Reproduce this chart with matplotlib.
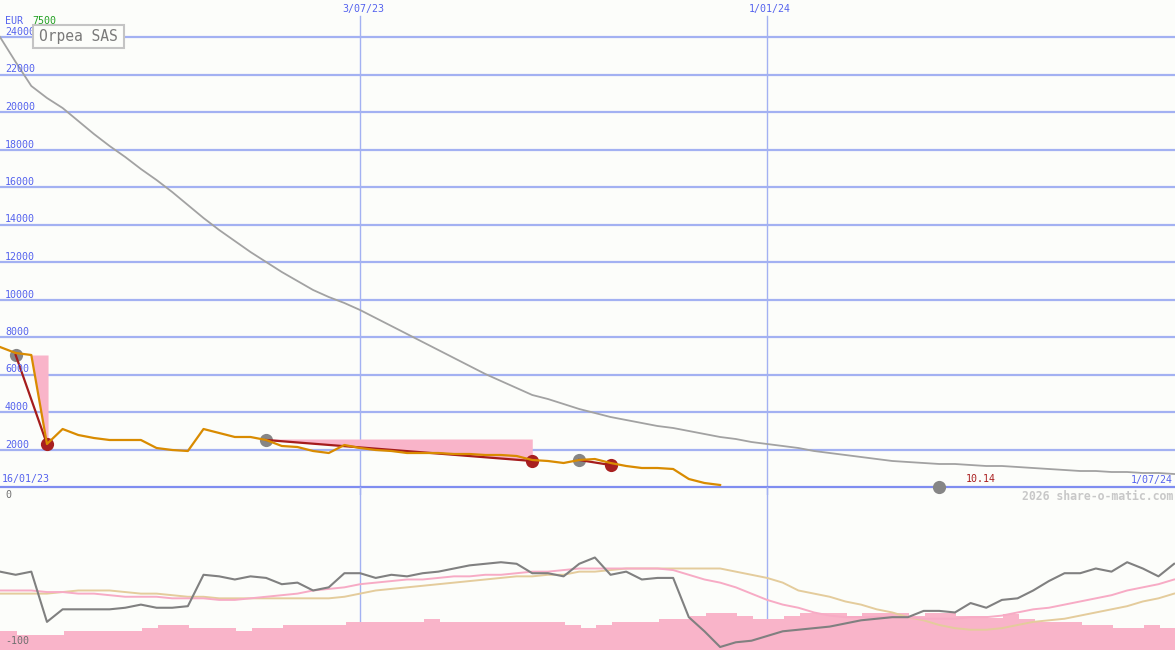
import numpy as np
import matplotlib
matplotlib.use("Agg")
import matplotlib.pyplot as plt
import matplotlib.dates as mdates
from matplotlib.patches import Rectangle

# ---------------- data ----------------
START = "2023-01-23"            # first weekly point
X_END_DAYS = 525.4              # right edge of the chart (1 Jul 2024)

# weekly closing price (EUR, adjusted)
price = [7467, 7147, 7040, 2293, 3093, 2773, 2613, 2507, 2507, 2507,
         2080, 1973, 1920, 3093, 2880, 2667, 2667, 2507, 2187, 2133,
         1920, 1813, 2240, 2080, 1973, 1920, 1813, 1813, 1813, 1760,
         1760, 1707, 1707, 1653, 1440, 1387, 1280, 1440, 1493, 1280,
         1120, 1013, 1013, 960, 427, 213, 107]

# long moving average (grey)
long_ma = [24000, 22667, 21387, 20747, 20213, 19520, 18827, 18187, 17600, 16960,
           16373, 15733, 15040, 14347, 13707, 13120, 12533, 12000, 11467, 10987,
           10507, 10133, 9813, 9440, 9013, 8587, 8160, 7733, 7307, 6880,
           6453, 6027, 5653, 5280, 4907, 4693, 4427, 4160, 3947, 3733,
           3573, 3413, 3253, 3147, 2987, 2827, 2667, 2560, 2400, 2293,
           2187, 2080, 1920, 1813, 1707, 1600, 1493, 1387, 1333, 1280,
           1227, 1227, 1173, 1120, 1120, 1067, 1013, 960, 907, 853,
           853, 800, 800, 747, 747, 693]

# trade signals (week index, price)
buy_weeks = [1, 17, 37, 60]
buy_vals = [7040, 2507, 1440, 0]
sell_weeks = [3, 34, 39]
sell_vals = [2293, 1387, 1173]
zone_tops = [7040, 2560]           # pink loss zones
last_value_label = "10.14"

# oscillator panel (0 .. -100)
osc = [-52, -54, -52, -84, -76, -76, -76, -76, -75, -73,
       -75, -75, -74, -54, -55, -57, -55, -56, -60, -59,
       -64, -62, -53, -53, -56, -54, -55, -53, -52, -50,
       -48, -47, -46, -47, -53, -53, -55, -47, -43, -54,
       -52, -57, -56, -56, -81, -90, -100, -97, -96, -93,
       -90, -89, -88, -87, -85, -83, -82, -81, -81, -77,
       -77, -78, -72, -75, -70, -69, -64, -58, -53, -53,
       -50, -52, -46, -50, -55, -47]
osc_fast = [-64, -64, -64, -65, -65, -66, -66, -67, -68, -68,
            -68, -69, -69, -69, -70, -70, -69, -68, -67, -66,
            -64, -63, -62, -60, -59, -58, -57, -57, -56, -55,
            -55, -54, -54, -53, -52, -52, -51, -50, -50, -50,
            -50, -50, -50, -51, -54, -57, -59, -62, -66, -70,
            -73, -75, -78, -80, -81, -81, -81, -81, -81, -82,
            -82, -82, -81, -81, -80, -78, -76, -75, -73, -71,
            -69, -67, -64, -62, -60, -57]
osc_slow = [-66, -66, -66, -66, -65, -64, -64, -64, -65, -66,
            -66, -67, -68, -68, -69, -69, -69, -69, -69, -69,
            -69, -69, -68, -66, -64, -63, -62, -61, -60, -59,
            -58, -57, -56, -55, -55, -54, -54, -52, -52, -51,
            -50, -50, -50, -50, -50, -50, -50, -52, -54, -56,
            -59, -64, -66, -68, -71, -73, -76, -78, -81, -83,
            -86, -88, -89, -89, -88, -86, -84, -83, -82, -80,
            -78, -76, -74, -71, -69, -66]
volume = [19, 19, 15, 15, 15, 19, 19, 19, 19, 19,
          22, 25, 25, 22, 22, 22, 19, 22, 22, 25,
          25, 25, 25, 28, 28, 28, 28, 28, 31, 28,
          28, 28, 28, 28, 28, 28, 28, 25, 22, 25,
          28, 28, 28, 31, 31, 34, 37, 37, 34, 31,
          31, 34, 37, 37, 37, 34, 37, 37, 37, 34,
          37, 37, 34, 34, 32, 36, 31, 28, 28, 28,
          25, 25, 22, 22, 25, 22]

y_ticks = list(range(2000, 24001, 2000))
vline_dates = ["2023-07-03", "2024-01-01"]
vline_labels = ["3/07/23", "1/01/24"]
first_label, last_label = "16/01/23", "1/07/24"
title = "Orpea SAS"

# ---------------- style ----------------
W, H = 1175, 650
BG = "#fcfdfa"
GRID = "#a3b1f2"
ZERO = "#7f8df0"
LBL = "#5563ee"
FONT = "DejaVu Sans Mono"
plt.rcParams["font.family"] = FONT

fig = plt.figure(figsize=(W / 100, H / 100), dpi=100, facecolor=BG)

t0 = mdates.date2num(np.datetime64(START))
wk = lambda i: t0 + 7 * np.asarray(i, dtype=float)
xw = wk(np.arange(len(long_ma)))
xlim = (t0, t0 + X_END_DAYS)
vx = [mdates.date2num(np.datetime64(d)) for d in vline_dates]

PXV = 24000 / 450.0                       # value per pixel, main panel
MAIN_BOT = 495
main = fig.add_axes([0, (H - MAIN_BOT) / H, 1, MAIN_BOT / H])
main.set_facecolor("none")
main.set_xlim(*xlim)
main.set_ylim(-(MAIN_BOT - 487) * PXV, 24000 + 37 * PXV)
main.axis("off")

# lower panel axes
LP = 163
OPX = 100 / 157.0
lo_ylim = (-(650 - 490) * OPX, (490 - 487) * OPX)
lgrid = fig.add_axes([0, 0, 1, LP / H]); lgrid.axis("off")
lgrid.set_xlim(*xlim); lgrid.set_ylim(*lo_ylim)
lvol = fig.add_axes([0, 0, 1, LP / H]); lvol.axis("off")
lvol.set_xlim(*xlim); lvol.set_ylim(0, LP)
losc = fig.add_axes([0, 0, 1, LP / H]); losc.axis("off")
losc.set_xlim(*xlim); losc.set_ylim(*lo_ylim)

# grid
for v in y_ticks:
    main.axhline(v, color=GRID, lw=1.6, zorder=1)
main.axhline(0, color=ZERO, lw=1.6, zorder=1.5)
for x in vx:
    main.axvline(x, ymin=0, ymax=(MAIN_BOT - 16) / MAIN_BOT, color=GRID, lw=1.0, zorder=1)
    lgrid.axvline(x, color=GRID, lw=1.0)

# pink zones
pr = np.array(price, dtype=float)
main.fill_between([wk(2), wk(3), wk(3.07)], [zone_tops[0]] * 3,
                  [pr[2], pr[3], pr[3]], color="#f9b4c9", lw=0, zorder=2)
zx = wk(np.array([17, 34]))
main.fill_between(zx, [zone_tops[1]] * 2, [buy_vals[1], sell_vals[1]],
                  color="#f9b4c9", lw=0, zorder=2)

# long MA
main.plot(xw, long_ma, color="#a2a2a2", lw=1.3, zorder=3)

# signal dots
main.plot(wk(buy_weeks), buy_vals, "o", ms=9.5, color="#868686", mec="none", zorder=4, clip_on=False)
main.plot(wk(sell_weeks), sell_vals, "o", ms=9.5, color="#a82020", mec="none", zorder=4)

# trade lines
for b, s in [(0, 0), (1, 1), (2, 2)]:
    main.plot([wk(buy_weeks[b]), wk(sell_weeks[s])], [buy_vals[b], sell_vals[s]],
              color="#a51c1c", lw=1.6, zorder=5)

# price
main.plot(wk(np.arange(len(price))), price, color="#d98b00", lw=1.6, zorder=6)

# lower panel
lvol.bar(xw - 6.4, volume, width=7, align="edge", color="#f9b4c9", lw=0)
losc.plot(xw, osc_slow, color="#e4cc9c", lw=1.4)
losc.plot(xw, osc_fast, color="#f7abc5", lw=1.4)
losc.plot(xw, osc, color="#808080", lw=1.5)

# ---------------- texts ----------------
for v in y_ticks:
    main.annotate(str(v), xy=(0, v), xycoords=("axes fraction", "data"),
                  xytext=(5, 2), textcoords="offset pixels",
                  va="baseline", ha="left", fontsize=7.2, color=LBL, zorder=7)

for x, s in zip(vx, vline_labels):
    main.annotate(s, xy=(x, 1), xycoords=("data", "axes fraction"),
                  xytext=(3, -9), textcoords="offset pixels",
                  ha="center", va="center", fontsize=7.2, color=LBL)


def ftext(x, y, s, **kw):
    fig.text(x / W, 1 - y / H, s, **kw)


ftext(5, 21, "EUR", fontsize=7.2, color=LBL, va="center", ha="left")
ftext(32, 21, "7500", fontsize=7.2, color="#22a022", va="center", ha="left")
ftext(2, 479, first_label, fontsize=7.2, color=LBL, va="center", ha="left")
ftext(1173, 479.5, last_label, fontsize=7.2, color=LBL, va="center", ha="right")
ftext(966, 479.5, last_value_label, fontsize=7.2, color="#aa2020", va="center", ha="left")
ftext(1173, 496, "2026 share-o-matic.com", fontsize=8.3, color="#c8c8c8",
      fontweight="bold", va="center", ha="right")
ftext(5, 495.5, "0", fontsize=7.2, color="#707070", va="center", ha="left")
ftext(5, 641, "-100", fontsize=7.2, color="#707070", va="center", ha="left")

box = Rectangle((33 / W, 1 - 48 / H), 91 / W, 23 / H, transform=fig.transFigure,
                facecolor=BG, edgecolor="#c4c4c4", lw=1.5, zorder=10)
fig.patches.append(box)
fig.text(78.5 / W, 1 - 37 / H, title, fontsize=10.5, color="#7a7a7a",
         ha="center", va="center", zorder=11)

fig.savefig("out.png", dpi=100, facecolor=BG)
